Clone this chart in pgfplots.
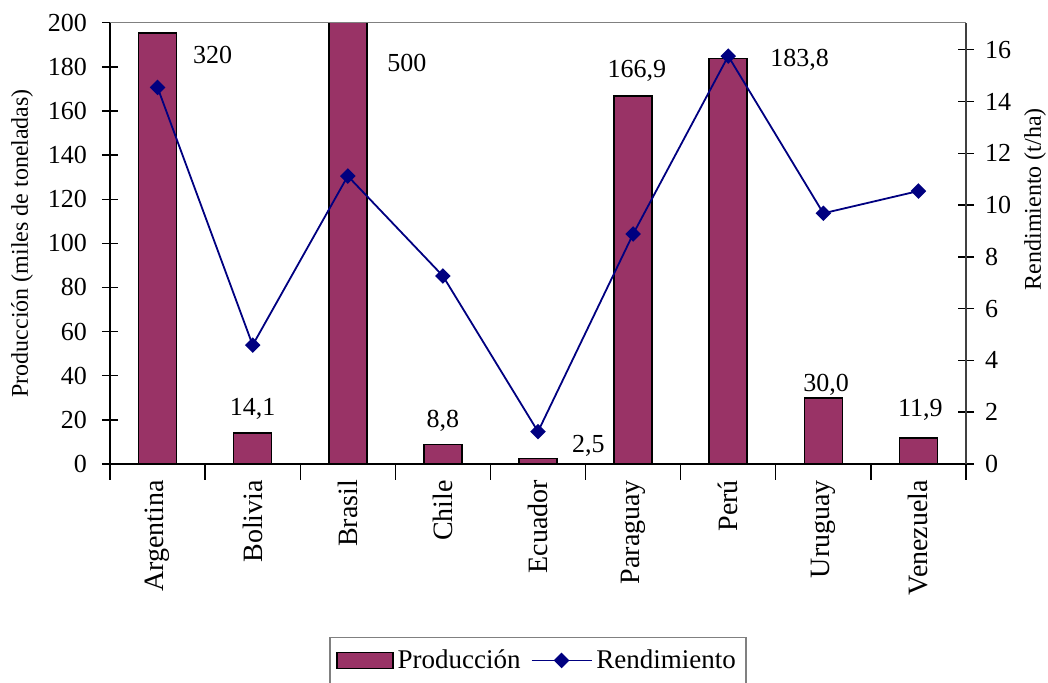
\documentclass[border=0pt]{standalone}
\usepackage{fontspec}
\setmainfont{Liberation Serif}
\usepackage{pgfplots}
\pgfplotsset{compat=1.18}
\definecolor{barcol}{HTML}{993366}
\definecolor{linecol}{HTML}{000080}

\pgfplotsset{
  base/.style={
    scale only axis, width=428pt, height=220.65pt,
    at={(0pt,0pt)}, anchor=south west,
    xmin=-0.5, xmax=8.5,
    tick align=center, major tick length=8pt,
    tick style={black, line width=0.7pt},
    tick label style={font=\fontsize{13}{15}\selectfont},
    label style={font=\fontsize{12}{14}\selectfont},
    /pgf/number format/assume math mode=true,
  },
  barlegend/.style={legend image code/.code={%
    \draw[fill=barcol, draw=black, line width=0.8pt] (0pt,-4pt) rectangle (28pt,4pt);}},
  linelegend/.style={legend image code/.code={%
    \draw[##1, mark repeat=2, mark phase=2] plot coordinates {(0pt,0pt) (15pt,0pt) (30pt,0pt)};}},
}

\begin{document}
\begin{tikzpicture}[font=\fontsize{13}{15}\selectfont]
\path[use as bounding box] (-55pt,-109.5pt) rectangle (469pt,232pt);

% bars, left axis
\begin{axis}[base,
  ymin=0, ymax=200,
  axis x line*=bottom, axis y line*=left,
  axis line style={-, black, line width=0.8pt},
  ytick={0,20,...,200},
  yticklabel style={xshift=-4pt},
  xtick={-0.5,0.5,...,8.5}, xticklabels={},
  extra x ticks={0,...,8},
  extra x tick labels={Argentina,Bolivia,Brasil,Chile,Ecuador,Paraguay,Perú,Uruguay,Venezuela},
  extra x tick style={major tick length=0pt},
  xticklabel style={rotate=90, anchor=east, font=\fontsize{14}{16}\selectfont, xshift=-4.5pt},
  ylabel={Producción (miles de toneladas)},
  ylabel style={at={(axis description cs:-0.1028,0.5)}, anchor=center},
  ybar, bar width=0.4,
]
\addplot[fill=barcol, draw=black, line width=0.8pt] coordinates {
  (0,195.2) (1,14.1) (2,500) (3,8.8) (4,2.5) (5,166.9) (6,183.8) (7,30.0) (8,11.9)};
\node[anchor=base] at (axis cs:0.58,181.6) {320};
\node[anchor=base] at (axis cs:1.0,22.2) {14,1};
\node[anchor=base] at (axis cs:2.62,178) {500};
\node[anchor=base] at (axis cs:3.0,16.5) {8,8};
\node[anchor=base] at (axis cs:4.53,5.4) {2,5};
\node[anchor=base] at (axis cs:5.04,175) {166,9};
\node[anchor=base] at (axis cs:6.75,180) {183,8};
\node[anchor=base] at (axis cs:7.03,33) {30,0};
\node[anchor=base] at (axis cs:8.02,21.3) {11,9};
\end{axis}

% yield line, right axis
\begin{axis}[base,
  ymin=0, ymax=17.04,
  axis x line*=top, axis y line*=right,
  x axis line style={-, gray, line width=0.8pt},
  y axis line style={-, black!75, line width=0.8pt},
  xtick=\empty, ytick={0,2,...,16},
  yticklabel style={xshift=2pt},
  ylabel={Rendimiento (t/ha)},
  ylabel style={at={(axis description cs:1.0806,0.6)}, anchor=center},
  legend style={at={(axis description cs:0.5,-0.392)}, anchor=north,
    legend columns=2, draw=gray, line width=0.6pt, inner xsep=3pt, inner ysep=4pt,
    font=\fontsize{13.5}{15}\selectfont,
    /tikz/every even column/.append style={column sep=3pt}},
]
\addlegendimage{barlegend}
\addlegendentry{Producción}
\addplot[linecol, line width=0.9pt, mark=square*, mark size=2.3pt,
  mark options={rotate=45, solid}, linelegend]
  coordinates {(0,14.54) (1,4.59) (2,11.12) (3,7.26) (4,1.25) (5,8.88) (6,15.75) (7,9.68) (8,10.54)};
\addlegendentry{Rendimiento}
\end{axis}
\end{tikzpicture}
\end{document}
